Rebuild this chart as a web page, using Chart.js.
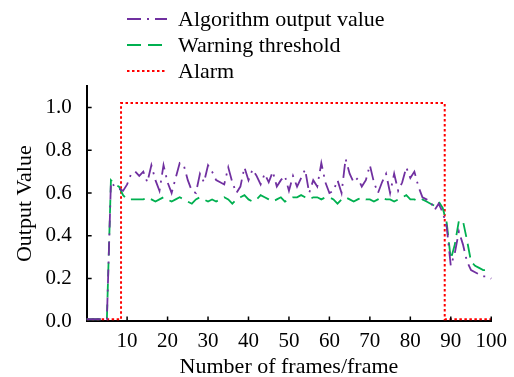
<!DOCTYPE html>
<html>
<head>
<meta charset="utf-8">
<title>Output value per frame</title>
<script src="https://cdn.jsdelivr.net/npm/chart.js@4.4.1/dist/chart.umd.min.js"></script>
<style>
  html, body { margin: 0; padding: 0; background: #fff; }
</style>
</head>
<body>
<canvas id="outputChart" width="514" height="377"></canvas>
<script>
// Frame index 0..101
const frames = Array.from({ length: 102 }, (_, i) => i);

const algorithmOutput = [
  0.01, 0.01, 0.01, 0.01, 0.01, 0.01, 0.65, 0.63, 0.62, 0.61,
  0.64, 0.69, 0.70, 0.68, 0.70, 0.65, 0.73, 0.66, 0.61, 0.73,
  0.65, 0.60, 0.67, 0.74, 0.73, 0.66, 0.61, 0.60, 0.69, 0.65,
  0.73, 0.70, 0.66, 0.65, 0.64, 0.72, 0.65, 0.60, 0.63, 0.72,
  0.66, 0.71, 0.68, 0.64, 0.69, 0.65, 0.70, 0.63, 0.66, 0.68,
  0.61, 0.68, 0.63, 0.67, 0.71, 0.60, 0.66, 0.63, 0.74, 0.65,
  0.60, 0.61, 0.66, 0.60, 0.76, 0.69, 0.65, 0.67, 0.63, 0.66,
  0.73, 0.65, 0.60, 0.65, 0.69, 0.60, 0.69, 0.61, 0.65, 0.72,
  0.67, 0.70, 0.63, 0.58, 0.57, 0.56, 0.52, 0.55, 0.51, 0.44,
  0.26, 0.32, 0.42, 0.36, 0.28, 0.24, 0.23, 0.22, 0.21, 0.21,
  0.20, 0.20
];

const warningThreshold = [
  0.01, 0.01, 0.01, 0.01, 0.01, 0.01, 0.66, 0.64, 0.63, 0.59,
  0.57, 0.57, 0.57, 0.57, 0.57, 0.58, 0.57, 0.56, 0.57, 0.58,
  0.57, 0.56, 0.57, 0.58, 0.57, 0.56, 0.55, 0.57, 0.58, 0.57,
  0.56, 0.57, 0.56, 0.57, 0.58, 0.57, 0.55, 0.57, 0.58, 0.59,
  0.57, 0.56, 0.57, 0.59, 0.58, 0.57, 0.56, 0.57, 0.58, 0.56,
  0.57, 0.58, 0.58, 0.59, 0.58, 0.57, 0.58, 0.58, 0.57, 0.58,
  0.58, 0.57, 0.55, 0.57, 0.58, 0.57, 0.56, 0.57, 0.58, 0.57,
  0.57, 0.56, 0.57, 0.58, 0.57, 0.57, 0.56, 0.57, 0.58, 0.59,
  0.57, 0.57, 0.56, 0.57, 0.56, 0.55, 0.54, 0.56, 0.53, 0.46,
  0.29, 0.36, 0.47, 0.47, 0.38, 0.28, 0.26, 0.25, 0.24, 0.24,
  0.23, 0.23
];

// Alarm state per frame 0..100
const alarm = [
  0.01, 0.01, 0.01, 0.01, 0.01, 0.01, 0.01, 0.01, 0.01, 1.02,
  1.02, 1.02, 1.02, 1.02, 1.02, 1.02, 1.02, 1.02, 1.02, 1.02,
  1.02, 1.02, 1.02, 1.02, 1.02, 1.02, 1.02, 1.02, 1.02, 1.02,
  1.02, 1.02, 1.02, 1.02, 1.02, 1.02, 1.02, 1.02, 1.02, 1.02,
  1.02, 1.02, 1.02, 1.02, 1.02, 1.02, 1.02, 1.02, 1.02, 1.02,
  1.02, 1.02, 1.02, 1.02, 1.02, 1.02, 1.02, 1.02, 1.02, 1.02,
  1.02, 1.02, 1.02, 1.02, 1.02, 1.02, 1.02, 1.02, 1.02, 1.02,
  1.02, 1.02, 1.02, 1.02, 1.02, 1.02, 1.02, 1.02, 1.02, 1.02,
  1.02, 1.02, 1.02, 1.02, 1.02, 1.02, 1.02, 1.02, 1.02, 0.01,
  0.01, 0.01, 0.01, 0.01, 0.01, 0.01, 0.01, 0.01, 0.01, 0.01,
  0.01
];

const xTicks = [10, 20, 30, 40, 50, 60, 70, 80, 90, 100];
const yTicks = [0, 0.2, 0.4, 0.6, 0.8, 1.0];

const serif = '"Liberation Serif", "Times New Roman", serif';

function toPoints(values) {
  return values.map((v, i) => ({ x: frames[i], y: v }));
}

// Legend stacked in rows above the plot
const legendRows = {
  id: 'legendRows',
  afterDraw(chart) {
    const ctx = chart.ctx;
    chart.data.datasets.forEach((ds, i) => {
      const y = 19 + i * 26;
      ctx.save();
      ctx.strokeStyle = ds.borderColor;
      ctx.lineWidth = ds.borderWidth;
      ctx.setLineDash(ds.borderDash || []);
      ctx.beginPath();
      ctx.moveTo(127, y);
      ctx.lineTo(167, y);
      ctx.stroke();
      ctx.setLineDash([]);
      ctx.fillStyle = '#000';
      ctx.font = '22px ' + serif;
      ctx.textBaseline = 'middle';
      ctx.fillText(ds.label, 178, y + 1);
      ctx.restore();
    });
  }
};

// Short tick marks pointing into the plot
const innerTicks = {
  id: 'innerTicks',
  afterDraw(chart) {
    const { ctx, chartArea, scales } = chart;
    ctx.save();
    ctx.strokeStyle = '#000';
    ctx.lineWidth = 1.5;
    ctx.beginPath();
    scales.x.ticks.forEach(t => {
      const px = scales.x.getPixelForValue(t.value);
      ctx.moveTo(px, chartArea.bottom);
      ctx.lineTo(px, chartArea.bottom - 5);
    });
    scales.y.ticks.forEach(t => {
      if (t.value === 0) return;
      const py = scales.y.getPixelForValue(t.value);
      ctx.moveTo(chartArea.left, py);
      ctx.lineTo(chartArea.left + 5, py);
    });
    ctx.stroke();
    ctx.restore();
  }
};

new Chart(document.getElementById('outputChart'), {
  type: 'line',
  data: {
    datasets: [
      {
        label: 'Algorithm output value',
        data: toPoints(algorithmOutput),
        borderColor: '#7030a0',
        borderWidth: 1.8,
        borderDash: [14, 6, 2, 6],
        clip: false
      },
      {
        label: 'Warning threshold',
        data: toPoints(warningThreshold),
        borderColor: '#00b050',
        borderWidth: 1.8,
        borderDash: [14, 7],
        clip: false
      },
      {
        label: 'Alarm',
        data: toPoints(alarm),
        borderColor: '#ff0000',
        borderWidth: 2,
        borderDash: [2.5, 2.5],
        stepped: 'middle'
      }
    ]
  },
  options: {
    responsive: false,
    animation: false,
    devicePixelRatio: 1,
    layout: { padding: { top: 86, right: 14, bottom: -3, left: 12 } },
    elements: {
      point: { radius: 0 },
      line: { tension: 0, fill: false }
    },
    plugins: {
      legend: { display: false },
      tooltip: { enabled: false }
    },
    scales: {
      x: {
        type: 'linear',
        min: 0,
        max: 100,
        afterBuildTicks: s => { s.ticks = xTicks.map(v => ({ value: v })); },
        grid: { display: false, drawTicks: false },
        border: { display: true, color: '#000', width: 2 },
        ticks: {
          color: '#000',
          font: { family: serif, size: 21 },
          padding: 7,
          maxRotation: 0,
          autoSkip: false
        },
        title: {
          display: true,
          text: 'Number of frames/frame',
          color: '#000',
          font: { family: serif, size: 22 },
          padding: { top: -7, bottom: 0 }
        }
      },
      y: {
        type: 'linear',
        min: 0,
        max: 1.1,
        afterBuildTicks: s => { s.ticks = yTicks.map(v => ({ value: v })); },
        grid: { display: false, drawTicks: false },
        border: { display: true, color: '#000', width: 2 },
        ticks: {
          color: '#000',
          font: { family: serif, size: 21 },
          padding: 15,
          callback: v => v.toFixed(1)
        },
        title: {
          display: true,
          text: 'Output Value',
          color: '#000',
          font: { family: serif, size: 22 },
          padding: { top: 0, bottom: -8 }
        }
      }
    }
  },
  plugins: [legendRows, innerTicks]
});
</script>
</body>
</html>
